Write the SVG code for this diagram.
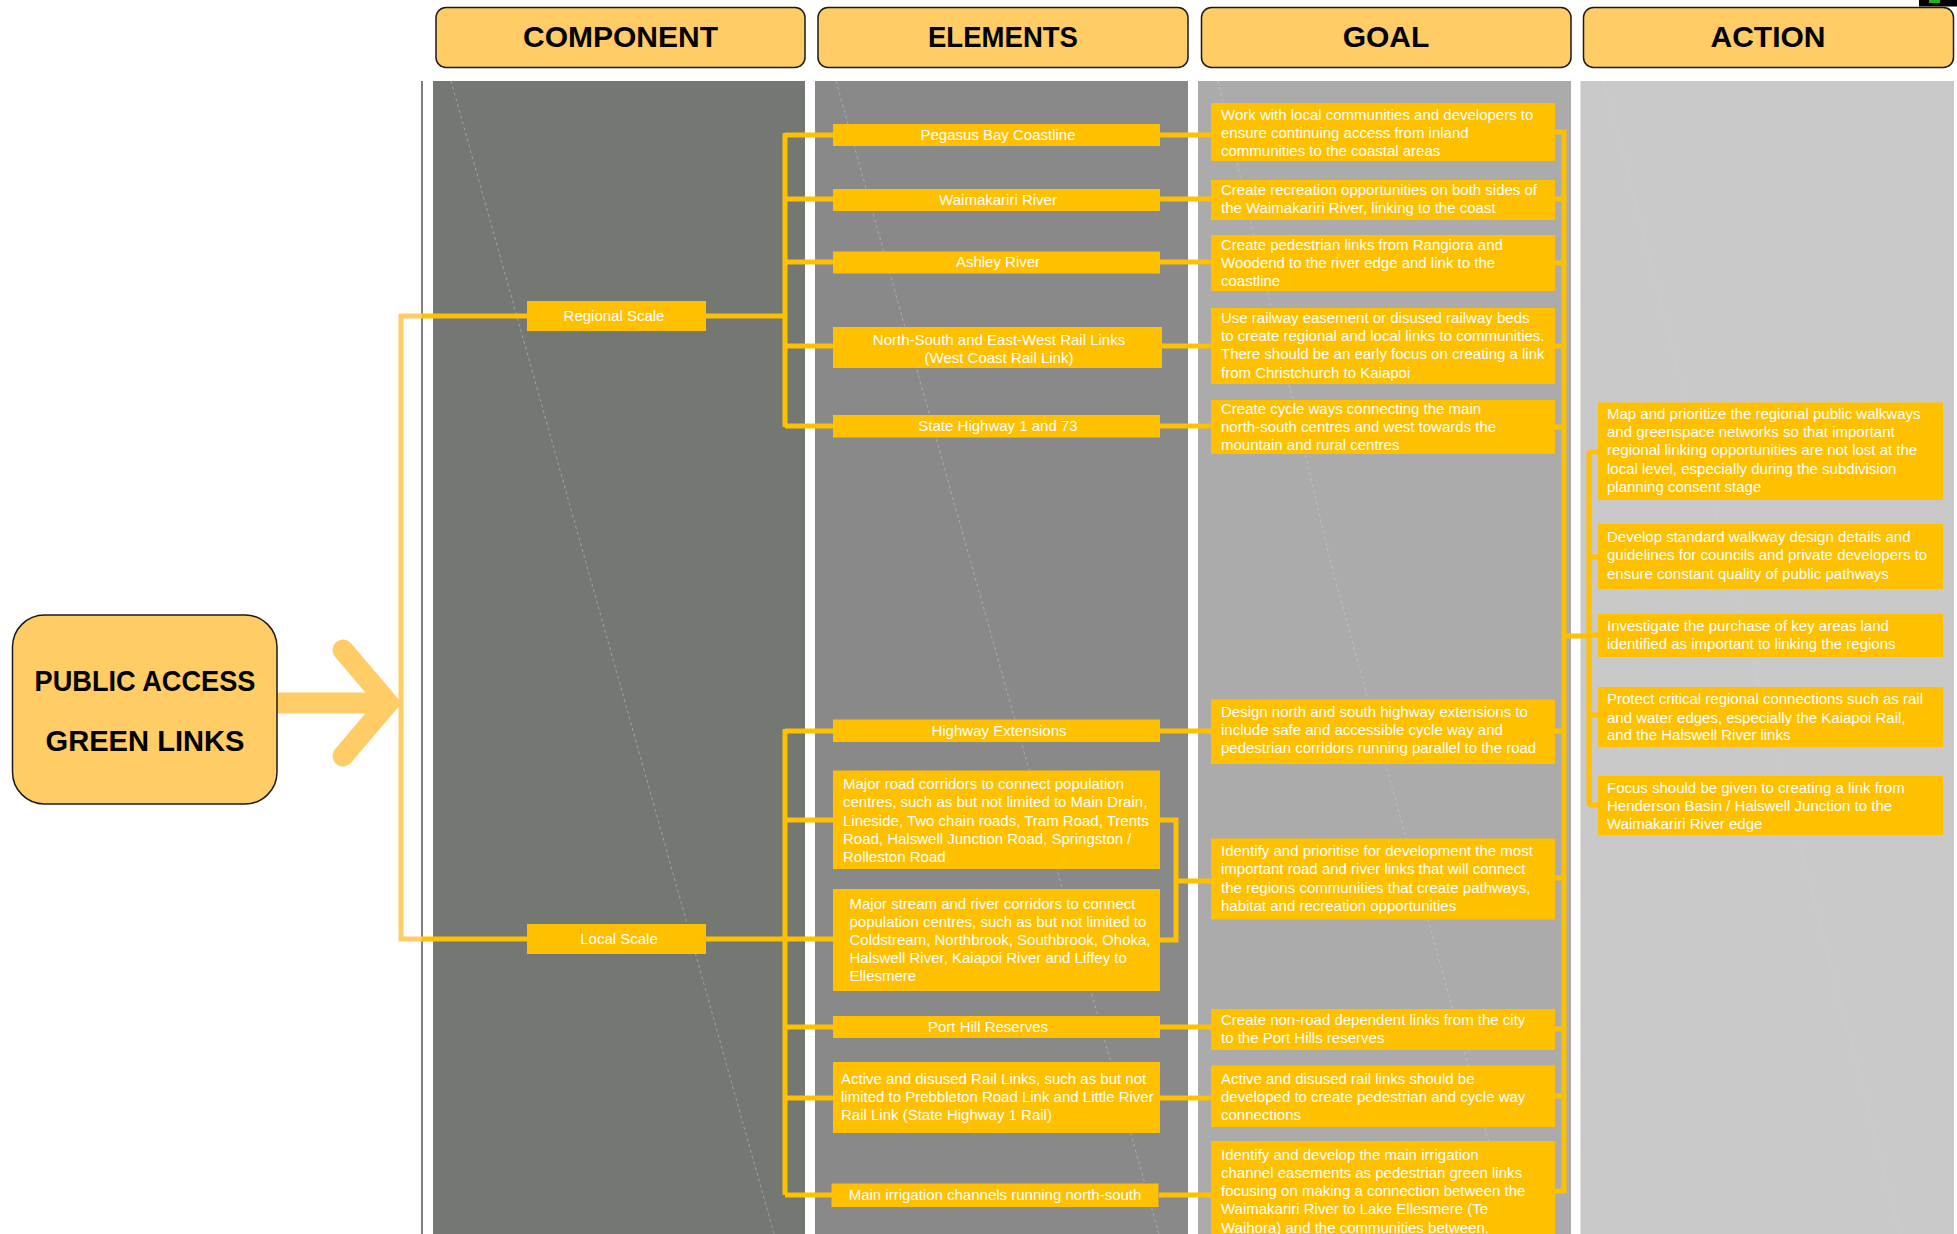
<svg xmlns="http://www.w3.org/2000/svg" width="1957" height="1234" viewBox="0 0 1957 1234">
<style>
.hdr{fill:#FFCC66;stroke:#1a1a1a;stroke-width:1.5}
.ht{font-family:"Liberation Sans",Arial,sans-serif;font-weight:bold;font-size:30px;fill:#000;text-anchor:middle}
.box{fill:#FFC000}
.t{font-family:"Liberation Sans",Arial,sans-serif;font-size:15px;fill:#fff}
.c{text-anchor:middle}
.con{stroke:#FFC000;stroke-width:5;fill:none}
.lcon{stroke:#FFCC66;fill:none}
.tex{stroke:#d8d8d8;stroke-width:1;stroke-dasharray:3 3;opacity:0.45;fill:none}
</style>
<rect width="1957" height="1234" fill="#fff"/>
<g id="background">
<line x1="422" y1="81" x2="422" y2="1234" stroke="#555" stroke-width="1.5"/>
<rect x="433" y="81" width="372" height="1153" fill="#737873"/>
<rect x="815" y="81" width="373" height="1153" fill="#898989"/>
<rect x="1198" y="81" width="373" height="1153" fill="#ababab"/>
<rect x="1580.5" y="81" width="373.5" height="1153" fill="#c9c9c9"/>
<path class="tex" d="M451 81 L774 1234 M836 81 L1159 1234 M1218 81 L1330 560 L1514 1234 M1604 81 L1900 1234"/>
<rect x="1919" y="0" width="38" height="6.5" fill="#000"/>
<rect x="1929" y="0" width="11" height="3" fill="#1db31d"/>
</g>
<g id="headers">
<g id="h-component"><rect class="hdr" x="436" y="7.5" width="369" height="60" rx="10"/><text class="ht" x="620.5" y="47">COMPONENT</text></g>
<g id="h-elements"><rect class="hdr" x="818" y="7.5" width="370" height="60" rx="10"/><text class="ht" x="1003" y="47" textLength="150" lengthAdjust="spacingAndGlyphs">ELEMENTS</text></g>
<g id="h-goal"><rect class="hdr" x="1201.5" y="7.5" width="369.5" height="60" rx="10"/><text class="ht" x="1386" y="47">GOAL</text></g>
<g id="h-action"><rect class="hdr" x="1583.5" y="7.5" width="370" height="60" rx="10"/><text class="ht" x="1768" y="47">ACTION</text></g>
</g>
<g id="connectors">
<line x1="277" y1="703" x2="380" y2="703" stroke="#FFCC66" stroke-width="21"/>
<polyline points="343,650 388,703 343,756" stroke="#FFCC66" stroke-width="21" fill="none" stroke-linecap="round" stroke-linejoin="miter"/>
<path class="lcon" stroke-width="5" d="M422 316 H401 V939 H422"/>
<path class="con" d="M422 316 H527 M422 939 H527"/>
<path class="con" d="M706 316 H785 M785 133 V427 M785 135 H833 M785 199 H833 M785 262 H833 M785 346 H833 M785 426 H833"/>
<path class="con" d="M706 939 H785 M785 729 V1195 M785 731 H833 M785 820 H833 M785 939 H833 M785 1027 H833 M785 1098 H833 M785 1195 H833"/>
<path class="con" d="M1160 135 H1211 M1160 199 H1211 M1160 262 H1211 M1162 346 H1211 M1160 426 H1211"/>
<path class="con" d="M1160 731 H1211 M1160 820 H1176 V940 H1160 M1176 881 H1211 M1160 1027 H1211 M1160 1098 H1211 M1159 1195 H1211"/>
<path class="con" d="M1564 130 V1193 M1555 132 H1564 M1555 199 H1564 M1555 263 H1564 M1555 346 H1564 M1555 427 H1564 M1555 731 H1564 M1555 878 H1564 M1555 1029 H1564 M1555 1096 H1564 M1555 1191 H1564"/>
<path class="con" d="M1564 636 H1589 M1589 451 V806 M1589 452 H1598 M1589 557 H1598 M1589 635 H1598 M1589 715 H1598 M1589 805 H1598"/>
</g>
<g id="main">
<rect x="12.5" y="615" width="264.5" height="189" rx="32" fill="#FFCC66" stroke="#1a1a1a" stroke-width="1.5"/>
<text class="ht" x="145" y="691" font-size="28" textLength="221" lengthAdjust="spacingAndGlyphs">PUBLIC ACCESS</text>
<text class="ht" x="145" y="751" font-size="28" textLength="199" lengthAdjust="spacingAndGlyphs">GREEN LINKS</text>
</g>
<g id="regional-scale"><rect class="box" x="527" y="301" width="179" height="30"/><text class="t c" x="614" y="321">Regional Scale</text></g>
<g id="local-scale"><rect class="box" x="527" y="924" width="179" height="30"/><text class="t c" x="619" y="944">Local Scale</text></g>
<g id="el-pegasus"><rect class="box" x="833" y="124" width="327" height="22"/><text class="t c" x="998" y="140">Pegasus Bay Coastline</text></g>
<g id="el-waimakariri"><rect class="box" x="833" y="189" width="327" height="22"/><text class="t c" x="998" y="205">Waimakariri River</text></g>
<g id="el-ashley"><rect class="box" x="833" y="251.5" width="327" height="22"/><text class="t c" x="998" y="267">Ashley River</text></g>
<g id="el-rail"><rect class="box" x="833" y="327" width="329" height="41"/><text class="t c" x="999" y="344.5">North-South and East-West Rail Links</text><text class="t c" x="999" y="362.5">(West Coast Rail Link)</text></g>
<g id="el-sh"><rect class="box" x="833" y="415" width="327" height="22.5"/><text class="t c" x="998" y="430.5">State Highway 1 and 73</text></g>
<g id="el-highway"><rect class="box" x="833" y="719.5" width="327" height="22.5"/><text class="t c" x="999" y="735.5">Highway Extensions</text></g>
<g id="el-road"><rect class="box" x="833" y="770.5" width="327" height="98.5"/>
<text class="t" x="843" y="789">Major road corridors to connect population</text>
<text class="t" x="843" y="807">centres, such as but not limited to Main Drain,</text>
<text class="t" x="843" y="825.5">Lineside, Two chain roads, Tram Road, Trents</text>
<text class="t" x="843" y="843.5">Road, Halswell Junction Road, Springston /</text>
<text class="t" x="843" y="861.5">Rolleston Road</text></g>
<g id="el-stream"><rect class="box" x="833" y="889" width="327" height="102"/>
<text class="t" x="849.5" y="908.5">Major stream and river corridors to connect</text>
<text class="t" x="849.5" y="926.7">population centres, such as but not limited to</text>
<text class="t" x="849.5" y="944.7">Coldstream, Northbrook, Southbrook, Ohoka,</text>
<text class="t" x="849.5" y="963">Halswell River, Kaiapoi River and Liffey to</text>
<text class="t" x="849.5" y="981">Ellesmere</text></g>
<g id="el-porthill"><rect class="box" x="833" y="1016" width="327" height="22"/><text class="t c" x="988" y="1032">Port Hill Reserves</text></g>
<g id="el-activerail"><rect class="box" x="833" y="1062" width="327" height="71"/>
<text class="t" x="841" y="1083.6">Active and disused Rail Links, such as but not</text>
<text class="t" x="841" y="1102">limited to Prebbleton Road Link and Little River</text>
<text class="t" x="841" y="1120">Rail Link (State Highway 1 Rail)</text></g>
<g id="el-irrigation"><rect class="box" x="831.5" y="1183.5" width="327" height="23.5"/><text class="t c" x="995" y="1200">Main irrigation channels running north-south</text></g>
<g id="goal-1"><rect class="box" x="1211" y="103" width="344" height="58"/>
<text class="t" x="1221" y="120">Work with local communities and developers to</text>
<text class="t" x="1221" y="138">ensure continuing access from inland</text>
<text class="t" x="1221" y="156">communities to the coastal areas</text></g>
<g id="goal-2"><rect class="box" x="1211" y="180" width="344" height="40"/>
<text class="t" x="1221" y="195">Create recreation opportunities on both sides of</text>
<text class="t" x="1221" y="213">the Waimakariri River, linking to the coast</text></g>
<g id="goal-3"><rect class="box" x="1211" y="235" width="344" height="56"/>
<text class="t" x="1221" y="249.5">Create pedestrian links from Rangiora and</text>
<text class="t" x="1221" y="268">Woodend to the river edge and link to the</text>
<text class="t" x="1221" y="286">coastline</text></g>
<g id="goal-4"><rect class="box" x="1211" y="308" width="344" height="76"/>
<text class="t" x="1221" y="322.5">Use railway easement or disused railway beds</text>
<text class="t" x="1221" y="341">to create regional and local links to communities.</text>
<text class="t" x="1221" y="359">There should be an early focus on creating a link</text>
<text class="t" x="1221" y="377.5">from Christchurch to Kaiapoi</text></g>
<g id="goal-5"><rect class="box" x="1211" y="400" width="344" height="54"/>
<text class="t" x="1221" y="414">Create cycle ways connecting the main</text>
<text class="t" x="1221" y="432">north-south centres and west towards the</text>
<text class="t" x="1221" y="450">mountain and rural centres</text></g>
<g id="goal-6"><rect class="box" x="1211" y="699.5" width="344" height="64.5"/>
<text class="t" x="1221" y="717">Design north and south highway extensions to</text>
<text class="t" x="1221" y="735">include safe and accessible cycle way and</text>
<text class="t" x="1221" y="753">pedestrian corridors running parallel to the road</text></g>
<g id="goal-7"><rect class="box" x="1211" y="838.5" width="344" height="81"/>
<text class="t" x="1221" y="856">Identify and prioritise for development the most</text>
<text class="t" x="1221" y="874">important road and river links that will connect</text>
<text class="t" x="1221" y="892.5">the regions communities that create pathways,</text>
<text class="t" x="1221" y="910.5">habitat and recreation opportunities</text></g>
<g id="goal-8"><rect class="box" x="1211" y="1009" width="344" height="41"/>
<text class="t" x="1221" y="1025">Create non-road dependent links from the city</text>
<text class="t" x="1221" y="1043">to the Port Hills reserves</text></g>
<g id="goal-9"><rect class="box" x="1211" y="1065.5" width="344" height="61.5"/>
<text class="t" x="1221" y="1084">Active and disused rail links should be</text>
<text class="t" x="1221" y="1102">developed to create pedestrian and cycle way</text>
<text class="t" x="1221" y="1120">connections</text></g>
<g id="goal-10"><rect class="box" x="1211" y="1141" width="344" height="93"/>
<text class="t" x="1221" y="1160">Identify and develop the main irrigation</text>
<text class="t" x="1221" y="1178">channel easements as pedestrian green links</text>
<text class="t" x="1221" y="1196">focusing on making a connection between the</text>
<text class="t" x="1221" y="1214">Waimakariri River to Lake Ellesmere (Te</text>
<text class="t" x="1221" y="1232.5">Waihora) and the communities between.</text></g>
<g id="action-1"><rect class="box" x="1598" y="402.5" width="345" height="97.5"/>
<text class="t" x="1607" y="418.5">Map and prioritize the regional public walkways</text>
<text class="t" x="1607" y="437">and greenspace networks so that important</text>
<text class="t" x="1607" y="455">regional linking opportunities are not lost at the</text>
<text class="t" x="1607" y="473.5">local level, especially during the subdivision</text>
<text class="t" x="1607" y="492">planning consent stage</text></g>
<g id="action-2"><rect class="box" x="1598" y="524" width="345" height="65"/>
<text class="t" x="1607" y="542">Develop standard walkway design details and</text>
<text class="t" x="1607" y="560">guidelines for councils and private developers to</text>
<text class="t" x="1607" y="578.5">ensure constant quality of public pathways</text></g>
<g id="action-3"><rect class="box" x="1598" y="614" width="345" height="43"/>
<text class="t" x="1607" y="631">Investigate the purchase of key areas land</text>
<text class="t" x="1607" y="649">identified as important to linking the regions</text></g>
<g id="action-4"><rect class="box" x="1598" y="687" width="345" height="60"/>
<text class="t" x="1607" y="704">Protect critical regional connections such as rail</text>
<text class="t" x="1607" y="722.5">and water edges, especially the Kaiapoi Rail,</text>
<text class="t" x="1607" y="740">and the Halswell River links</text></g>
<g id="action-5"><rect class="box" x="1598" y="776" width="345" height="59"/>
<text class="t" x="1607" y="792.5">Focus should be given to creating a link from</text>
<text class="t" x="1607" y="811">Henderson Basin / Halswell Junction to the</text>
<text class="t" x="1607" y="829">Waimakariri River edge</text></g>
</svg>
